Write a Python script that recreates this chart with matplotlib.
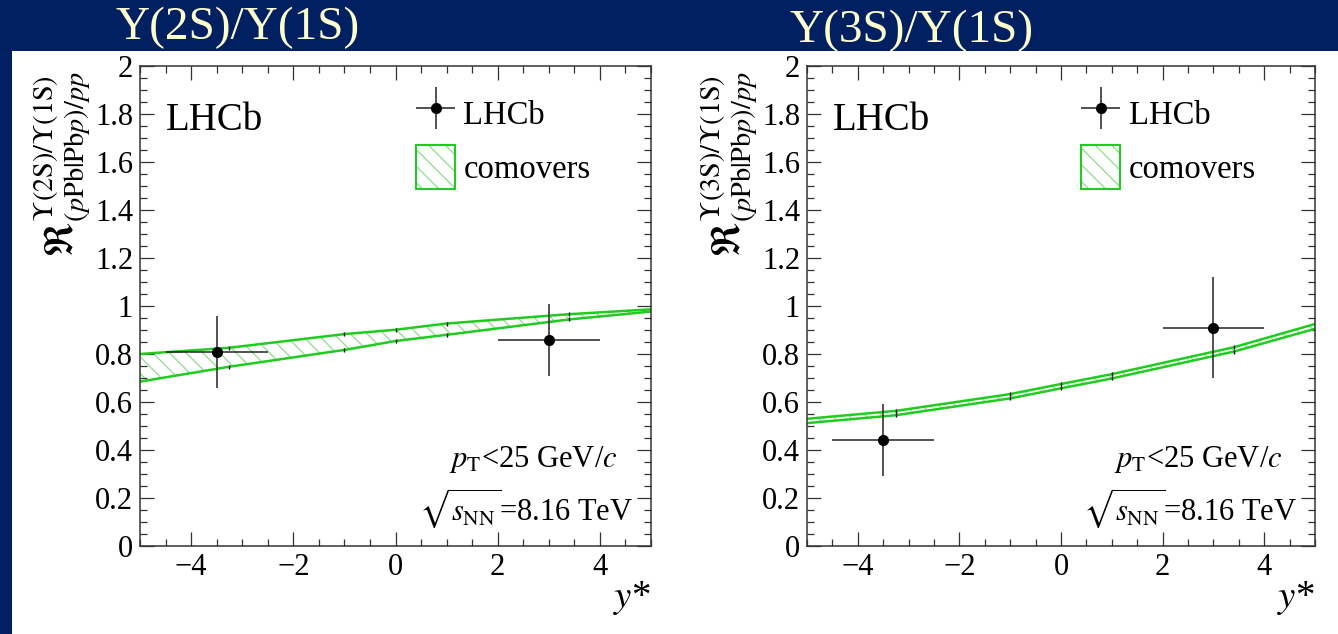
import numpy as np
import matplotlib.pyplot as plt
from matplotlib.patches import Patch, Rectangle
from matplotlib.ticker import MultipleLocator, FuncFormatter
from matplotlib.legend_handler import HandlerErrorbar

plt.rcParams['font.family'] = ['Liberation Serif', 'DejaVu Serif']
plt.rcParams['mathtext.fontset'] = 'stix'
plt.rcParams['hatch.linewidth'] = 0.9

NAVY = '#012062'
TITLE_COLOR = '#ffffcc'
GREEN = '#1fcc1f'
HATCH_GREEN = '#8fdc8f'

# LHCb measurements (y*, ratio, errors)
lhcb_y = [-3.5, 3.0]
lhcb_xerr = [1.0, 1.0]
r2s_val = [0.81, 0.86]
r2s_err = [0.15, 0.15]
r3s_val = [0.44, 0.91]
r3s_err = [0.15, 0.21]

# comovers band, upper and lower edges
com_y = [-5.0, -3.25, -1.0, 0.0, 1.0, 3.4, 5.0]
com2s_hi = [0.800, 0.826, 0.883, 0.901, 0.927, 0.966, 0.986]
com2s_lo = [0.685, 0.747, 0.817, 0.854, 0.880, 0.944, 0.977]
com3s_hi = [0.530, 0.563, 0.633, 0.675, 0.716, 0.828, 0.925]
com3s_lo = [0.512, 0.545, 0.615, 0.657, 0.698, 0.810, 0.905]

titles = ['Y(2S)/Y(1S)', 'Y(3S)/Y(1S)']
ylabels = [
    r'$\mathfrak{R}^{\Upsilon(\mathrm{2S})/\Upsilon(\mathrm{1S})}_{(p\mathrm{Pb}|\mathrm{Pb}p)/pp}$',
    r'$\mathfrak{R}^{\Upsilon(\mathrm{3S})/\Upsilon(\mathrm{1S})}_{(p\mathrm{Pb}|\mathrm{Pb}p)/pp}$',
]


def fmt(v, pos):
    return ('%g' % v).replace('-', '\u2212')


def draw_panel(ax, vals, errs, hi, lo, ylabel):
    ax.fill_between(com_y, lo, hi, facecolor='none', edgecolor=HATCH_GREEN,
                    hatch=r'\\', linewidth=0, zorder=1)
    ax.plot(com_y, hi, color=GREEN, lw=1.8, zorder=2)
    ax.plot(com_y, lo, color=GREEN, lw=1.8, zorder=2)
    ax.plot(com_y[1:-1], hi[1:-1], ls='none', marker='|', ms=3, mew=1, color='k', zorder=3)
    ax.plot(com_y[1:-1], lo[1:-1], ls='none', marker='|', ms=3, mew=1, color='k', zorder=3)
    eb = ax.errorbar(lhcb_y, vals, xerr=lhcb_xerr, yerr=errs, fmt='o', color='k',
                     ecolor='#222222', elinewidth=1.1, ms=7, capsize=0, zorder=4)

    ax.set_xlim(-5, 5)
    ax.set_ylim(0, 2)
    ax.xaxis.set_major_locator(MultipleLocator(2))
    ax.xaxis.set_minor_locator(MultipleLocator(0.5))
    ax.yaxis.set_major_locator(MultipleLocator(0.2))
    ax.yaxis.set_minor_locator(MultipleLocator(0.05))
    ax.xaxis.set_major_formatter(FuncFormatter(fmt))
    ax.yaxis.set_major_formatter(FuncFormatter(fmt))
    ax.tick_params(which='both', direction='in', top=True, right=True,
                   width=0.9, color='#333333', labelsize=22)
    ax.tick_params(which='major', length=10, pad=5)
    ax.tick_params(which='minor', length=5)
    for s in ax.spines.values():
        s.set_linewidth(1.1)
        s.set_color('#333333')

    ax.set_xlabel(r'$y$*', fontsize=28, loc='right', labelpad=-2)
    ax.text(-0.152, 0.988, ylabel, transform=ax.transAxes, rotation=90,
            ha='center', va='top', fontsize=29)

    ax.text(0.05, 0.887, 'LHCb', transform=ax.transAxes, fontsize=28,
            ha='left', va='center')
    ax.text(0.935, 0.18, r'$p_{\mathrm{T}}$<25 GeV/$c$', transform=ax.transAxes,
            fontsize=22, ha='right', va='center')
    ax.text(0.965, 0.08, r'$\sqrt{s_{\mathrm{NN}}}$=8.16 TeV', transform=ax.transAxes,
            fontsize=22, ha='right', va='center')

    band = (Patch(facecolor='none', edgecolor=HATCH_GREEN, hatch=r'\\', linewidth=0),
            Patch(facecolor='none', edgecolor=GREEN, linewidth=1.5))
    ax.legend([eb, band], ['LHCb', 'comovers'], loc='upper left',
              bbox_to_anchor=(0.54, 0.947), frameon=False, fontsize=23.5,
              handlelength=1.2, handleheight=1.7, handletextpad=0.25,
              labelspacing=0.3, borderpad=0, borderaxespad=0,
              handler_map={eb: HandlerErrorbar(xerr_size=0.6, yerr_size=0.65)})


fig = plt.figure(figsize=(13.38, 6.34), dpi=100)
fig.patch.set_facecolor(NAVY)
fig.patches.append(Rectangle((12 / 1338, 0), 1, (634 - 51) / 634,
                             transform=fig.transFigure, facecolor='white',
                             edgecolor='none', zorder=-10))

ax1 = fig.add_axes([140 / 1338, 88 / 634, 511 / 1338, 480 / 634])
ax2 = fig.add_axes([807 / 1338, 88 / 634, 508 / 1338, 480 / 634])

draw_panel(ax1, r2s_val, r2s_err, com2s_hi, com2s_lo, ylabels[0])
draw_panel(ax2, r3s_val, r3s_err, com3s_hi, com3s_lo, ylabels[1])

fig.text(238 / 1338, 1 - 28 / 634, titles[0], color=TITLE_COLOR, fontsize=34,
         ha='center', va='center')
fig.text(912 / 1338, 1 - 31 / 634, titles[1], color=TITLE_COLOR, fontsize=34,
         ha='center', va='center')

fig.savefig('out.png', dpi=100, facecolor=fig.get_facecolor())
